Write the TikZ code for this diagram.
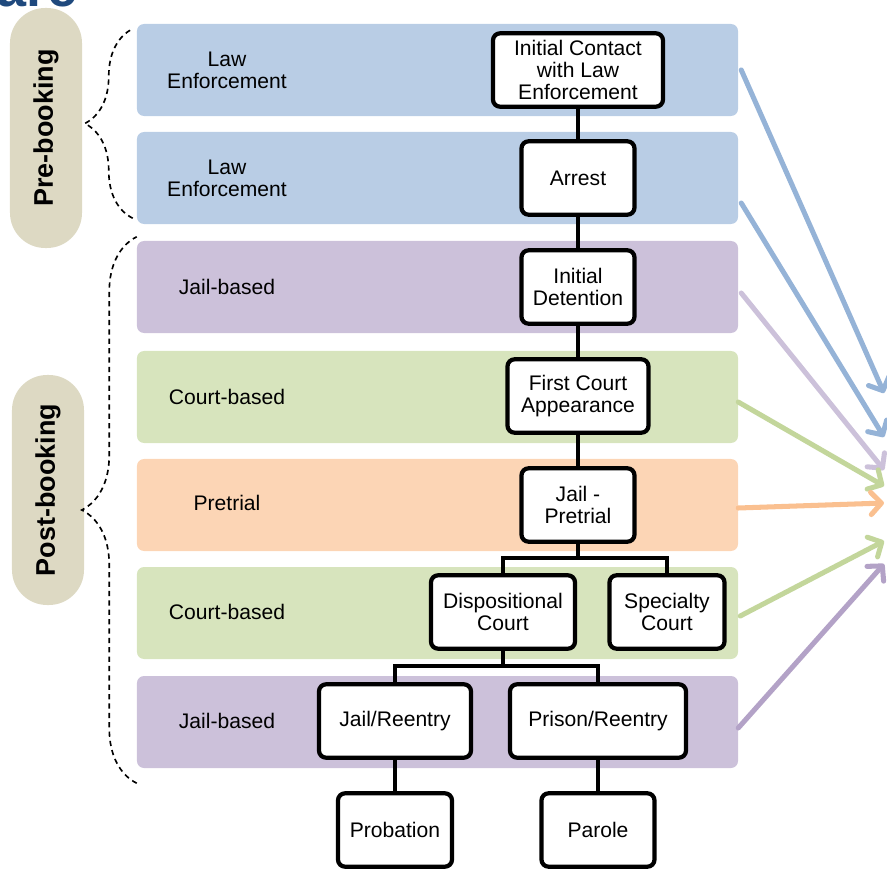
\documentclass[tikz,border=0pt]{standalone}
\usepackage{fontspec}
\setmainfont{Liberation Sans}
\usetikzlibrary{arrows.meta,decorations.pathreplacing,calc}
\definecolor{leblue}{HTML}{B9CDE5}
\definecolor{jailpurple}{HTML}{CCC1DA}
\definecolor{courtgreen}{HTML}{D7E4BD}
\definecolor{pretrialorange}{HTML}{FCD5B5}
\definecolor{pillgray}{HTML}{DDD9C3}
\definecolor{titleblue}{HTML}{1F497D}
\definecolor{arrblue}{HTML}{95B3D7}
\definecolor{arrlilac}{HTML}{CCC1DA}
\definecolor{arrgreen}{HTML}{C3D69B}
\definecolor{arrorange}{HTML}{FAC090}
\definecolor{arrpurple}{HTML}{B3A2C7}
\tikzset{band/.style={rectangle, rounded corners=6pt, fill=#1, minimum width=18.03cm, minimum height=2.76cm, inner sep=0pt}}
\tikzset{bandlabel/.style={align=center, font=\fontsize{18}{19}\selectfont}}
\tikzset{stage/.style={rectangle, draw=black, line width=3.6pt, fill=white, rounded corners=6pt, align=center, inner sep=2pt, minimum height=2.2cm, font=\fontsize{18}{19}\selectfont}}
\tikzset{pill/.style={rectangle, rounded corners=30pt, fill=pillgray, minimum height=2.16cm, inner sep=0pt, rotate=90, font=\bfseries\fontsize{23}{24}\selectfont}}
\tikzset{link/.style={line width=3.6pt}}
\tikzset{flow/.style={line width=4.3pt, line cap=round, -{Straight Barb[length=9pt,width=19pt,round]}, #1}}
\tikzset{bracket/.style={line width=1.4pt, dash pattern=on 4.5pt off 3.5pt, decorate, decoration={brace, amplitude=#1}}}
\begin{document}
\begin{tikzpicture}[x=0.03cm, y=-0.03cm]
%sequential intercept stages, grouped in pre- and post-booking, all feeding one point on the right
\useasboundingbox (0,0) rectangle (887,872);
\node (title) at (78,7)[anchor=base east, inner sep=0pt, text=titleblue, font=\bfseries\fontsize{46}{46}\selectfont]{are};
\node (le1) at (437.5,70)[band=leblue]{};
\node (le2) at (437.5,178)[band=leblue]{};
\node (jail1) at (437.5,287)[band=jailpurple]{};
\node (court1) at (437.5,397)[band=courtgreen]{};
\node (pre) at (437.5,505)[band=pretrialorange]{};
\node (court2) at (437.5,613)[band=courtgreen]{};
\node (jail2) at (437.5,722)[band=jailpurple]{};
\node (le1l) at (227,70)[bandlabel]{Law\\Enforcement};
\node (le2l) at (227,178)[bandlabel]{Law\\Enforcement};
\node (jail1l) at (227,287)[bandlabel]{Jail-based};
\node (court1l) at (227,397)[bandlabel]{Court-based};
\node (prel) at (227,503)[bandlabel]{Pretrial};
\node (court2l) at (227,612)[bandlabel]{Court-based};
\node (jail2l) at (227,721)[bandlabel]{Jail-based};
\node (prebook) at (46,128)[pill, minimum width=7.2cm]{Pre-booking};
\node (postbook) at (48,490)[pill, minimum width=6.9cm]{Post-booking};
\draw[bracket=1.44cm] ($(le2.south west)+(-4,-6)$) -- ($(le1.north west)+(-4,5)$);
\draw[bracket=1.65cm] ($(jail2.south west)+(0,15)$) -- ($(jail1.north west)+(0,-4)$);
\node (contact) at (578,70)[stage, minimum width=5.1cm]{Initial Contact\\with Law\\Enforcement};
\node (arrest) at (578,178)[stage, minimum width=3.39cm]{Arrest};
\node (detention) at (578,287)[stage, minimum width=3.39cm]{Initial\\Detention};
\node (firstcourt) at (578,396)[stage, minimum width=4.23cm]{First Court\\Appearance};
\node (jailpre) at (578,505)[stage, minimum width=3.39cm]{Jail -\\Pretrial};
\node (dispo) at (503,612)[stage, minimum width=4.32cm]{Dispositional\\Court};
\node (specialty) at (667,612)[stage, minimum width=3.45cm]{Specialty\\Court};
\node (jailre) at (395,721)[stage, minimum width=4.56cm]{Jail/Reentry};
\node (prisonre) at (598,721)[stage, minimum width=5.28cm]{Prison/Reentry};
\node (probation) at (395,830)[stage, minimum width=3.42cm]{Probation};
\node (parole) at (598,830)[stage, minimum width=3.39cm]{Parole};
\coordinate (fork1) at (578,558);
\coordinate (fork2) at (503,666);
\draw[link] (contact)--(arrest);
\draw[link] (arrest)--(detention);
\draw[link] (detention)--(firstcourt);
\draw[link] (firstcourt)--(jailpre);
\draw[link] (jailpre.south)--(fork1);
\draw[link] (dispo.north) |- (fork1) -| (specialty.north);
\draw[link] (dispo.south)--(fork2);
\draw[link] (jailre.north) |- (fork2) -| (prisonre.north);
\draw[link] (jailre)--(probation);
\draw[link] (prisonre)--(parole);
\coordinate (hub1) at (884,393);
\coordinate (hub2) at (884,437);
\coordinate (hub3) at (884,470);
\coordinate (hub4) at (884,486);
\coordinate (hub5) at (884,503);
\coordinate (hub6) at (884,541);
\coordinate (hub7) at (884,564);
\draw[flow=arrblue] ($(le1.east)+(3,0)$)--(hub1);
\draw[flow=arrblue] ($(le2.east)+(3,25)$)--(hub2);
\draw[flow=arrlilac] ($(jail1.east)+(3,6)$)--(hub3);
\draw[flow=arrgreen] ($(court1.east)+(0,5)$)--(hub4);
\draw[flow=arrorange] ($(pre.east)+(0,3)$)--(hub5);
\draw[flow=arrgreen] ($(court2.east)+(2,3)$)--(hub6);
\draw[flow=arrpurple] ($(jail2.east)+(0,6)$)--(hub7);
\end{tikzpicture}
\end{document}
